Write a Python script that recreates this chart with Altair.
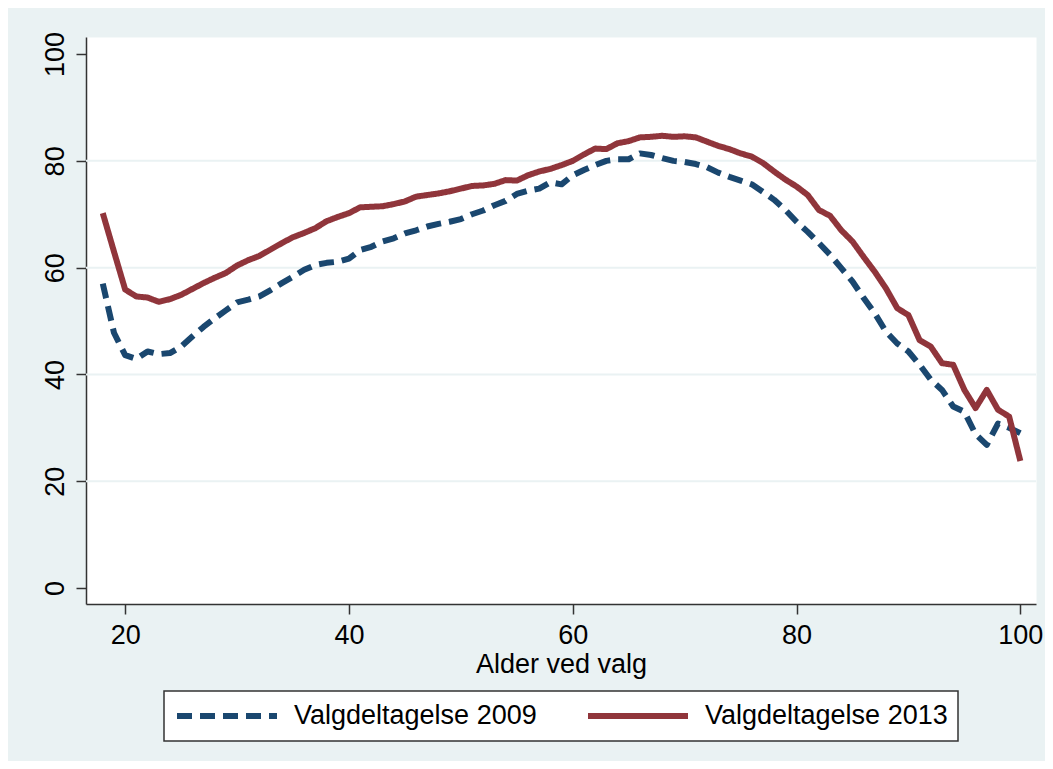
import altair as alt
import pandas as pd

ages = list(range(18, 101))

turnout_2009 = [
    57.0, 47.8, 43.6, 42.9, 44.3, 43.8, 44.0, 45.2, 47.1, 48.9, 50.5, 52.0,
    53.5, 54.0, 54.6, 55.8, 57.1, 58.3, 59.6, 60.5, 60.9, 61.1,
    61.7, 63.3, 63.9, 64.9, 65.5, 66.4, 67.0, 67.7, 68.2, 68.6,
    69.1, 70.0, 70.7, 71.7, 72.5, 73.8, 74.4, 74.8, 76.0, 75.6,
    77.3, 78.3, 79.2, 80.0, 80.3, 80.3, 81.4, 81.1, 80.5, 80.0,
    79.8, 79.4, 78.8, 77.8, 77.0, 76.3, 75.6, 74.2, 72.7, 70.8,
    68.6, 66.7, 64.6, 62.4, 59.9, 57.4, 54.3, 51.4, 48.0, 45.8,
    44.3, 41.8, 39.0, 37.1, 34.0, 33.0, 28.8, 26.8, 30.8, 30.0,
    29.0,
]

turnout_2013 = [
    70.2, 63.0, 55.9, 54.6, 54.4, 53.6, 54.1, 54.9, 56.0, 57.1, 58.1, 59.0,
    60.4, 61.4, 62.2, 63.4, 64.6, 65.7, 66.5, 67.4, 68.7, 69.5,
    70.2, 71.3, 71.4, 71.5, 71.9, 72.4, 73.3, 73.6, 73.9, 74.3,
    74.8, 75.3, 75.4, 75.7, 76.4, 76.3, 77.3, 78.0, 78.5, 79.2,
    80.0, 81.2, 82.3, 82.2, 83.3, 83.7, 84.4, 84.5, 84.7, 84.5,
    84.6, 84.4, 83.6, 82.8, 82.2, 81.4, 80.8, 79.6, 78.0, 76.5,
    75.2, 73.6, 70.8, 69.7, 67.0, 64.9, 62.0, 59.2, 56.1, 52.4,
    51.1, 46.4, 45.2, 42.1, 41.8, 37.1, 33.7, 37.1, 33.4, 32.1,
    23.8,
]

series_names = ["Valgdeltagelse 2009", "Valgdeltagelse 2013"]
series_colors = ["#1A476F", "#90353B"]
series_dashes = [[15, 8], [1, 0]]
x_ticks = [20, 40, 60, 80, 100]
y_ticks = [0, 20, 40, 60, 80, 100]
grid_values = [20, 40, 60, 80]
x_title = "Alder ved valg"

rows = []
for name, vals in zip(series_names, [turnout_2009, turnout_2013]):
    for a, v in zip(ages, vals):
        rows.append({"age": a, "turnout": v, "series": name})
df = pd.DataFrame(rows)
grid_df = pd.DataFrame({"turnout": grid_values})

FONT = "Liberation Sans"
BG = "#EAF2F3"
AX = "#333333"

x_scale = alt.Scale(domain=[16.5, 101.4], nice=False, zero=False)
y_scale = alt.Scale(domain=[-3, 103.2], nice=False, zero=False)

y_axis = alt.Axis(
    values=y_ticks, title=None, grid=False, domainColor=AX, domainWidth=1.5,
    tickColor=AX, tickWidth=1.5, tickSize=10, labelFont=FONT, labelFontSize=27,
    labelColor="black", labelAngle=270, labelAlign="center",
    labelBaseline="bottom", labelPadding=7)

legend = alt.Legend(
    title=None, orient="none", legendX=78, legendY=654, direction="horizontal",
    symbolType="stroke", symbolSize=10000, symbolStrokeWidth=6, clipHeight=30,
    labelFont=FONT, labelFontSize=27, labelColor="black", labelOffset=14,
    labelLimit=0, columnPadding=48, padding=10, fillColor="white",
    strokeColor=AX,
)

grid = alt.Chart(grid_df).mark_rule(color=BG, strokeWidth=2).encode(
    y=alt.Y("turnout:Q", scale=y_scale, axis=y_axis)
)

lines = alt.Chart(df).mark_line(strokeWidth=6, strokeCap="butt", strokeJoin="round").encode(
    x=alt.X("age:Q", scale=x_scale, axis=alt.Axis(
        values=x_ticks, title=x_title, grid=False, domainColor=AX, domainWidth=1.5,
        tickColor=AX, tickWidth=1.5, tickSize=10, labelFont=FONT, labelFontSize=27,
        labelColor="black", labelPadding=8, titleFont=FONT, titleFontSize=27,
        titleFontWeight="normal", titleColor="black", titleY=68.5,
        titleBaseline="alphabetic")),
    y=alt.Y("turnout:Q", scale=y_scale, axis=y_axis),
    color=alt.Color("series:N", scale=alt.Scale(domain=series_names, range=series_colors),
                    legend=legend),
    strokeDash=alt.StrokeDash("series:N", scale=alt.Scale(domain=series_names, range=series_dashes),
                              legend=legend),
    order=alt.Order("age:Q"),
)

chart = alt.layer(grid, lines).properties(
    width=950, height=567,
    autosize=alt.AutoSizeParams(type="none"),
    padding={"left": 78, "top": 29, "right": 9, "bottom": 157},
    background=BG,
).configure_view(fill="white", stroke="transparent").configure_legend(strokeWidth=1.5)

chart.save("out.html", embed_options={"renderer": "svg", "actions": False})
